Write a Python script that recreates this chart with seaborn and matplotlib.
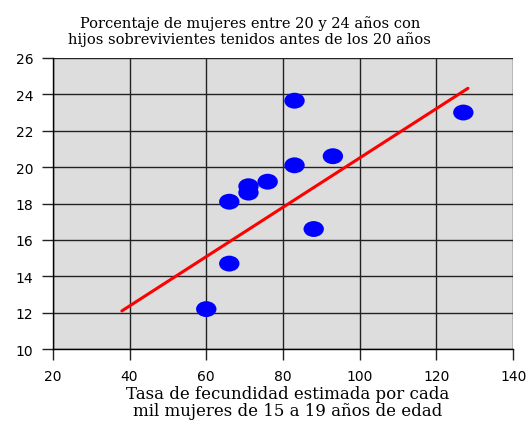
import numpy as np
import pandas as pd
import matplotlib
matplotlib.use("Agg")
import matplotlib.pyplot as plt
import seaborn as sns
from matplotlib.path import Path
from matplotlib.transforms import Affine2D

# data
tasa = [60, 66, 66, 71, 71, 76, 83, 83, 88, 93, 127]
porcentaje = [12.2, 14.7, 18.1, 18.6, 18.95, 19.2, 23.65, 20.1, 16.6, 20.6, 23.0]
trend_x = [38, 128.2]
trend_y = [12.1, 24.33]

x_ticks = [20, 40, 60, 80, 100, 120, 140]
y_ticks = [10, 12, 14, 16, 18, 20, 22, 24, 26]

TITLE = "Porcentaje de mujeres entre 20 y 24 años con\nhijos sobrevivientes tenidos antes de los 20 años"
XLABEL = "Tasa de fecundidad estimada por cada\nmil mujeres de 15 a 19 años de edad"

points_df = pd.DataFrame({'tasa': tasa, 'porcentaje': porcentaje})
trend_df = pd.DataFrame({'x': trend_x, 'y': trend_y})

sns.set_theme(style="white")
plt.rcParams['font.family'] = ['DejaVu Sans']

fig = plt.figure(figsize=(5.28, 4.27), dpi=100)
ax = fig.add_axes([0.100, 0.180, 0.872, 0.682])
ax.set_facecolor('#dddddd')

# flattened ellipse marker like the original blobs
ellipse = Path.unit_circle().transformed(Affine2D().scale(1.0, 0.78))

sns.lineplot(data=trend_df, x='x', y='y', color='#ff0000', linewidth=2.2, ax=ax, zorder=3)
sns.scatterplot(data=points_df, x='tasa', y='porcentaje', marker=ellipse, s=215,
                color='#0000ff', edgecolor='none', ax=ax, zorder=4)

ax.set_xlim(20, 140)
ax.set_ylim(10, 26)
ax.set_xticks(x_ticks)
ax.set_yticks(y_ticks)
ax.grid(True, color='#222222', linewidth=1.0)
ax.set_axisbelow(True)
for side in ['top', 'right']:
    ax.spines[side].set_visible(False)
for side in ['left', 'bottom']:
    ax.spines[side].set_color('black')
    ax.spines[side].set_linewidth(1.0)
ax.tick_params(axis='both', which='major', direction='out', length=8, width=1.0,
               color='#222222', labelcolor='black', labelsize=10, pad=6,
               left=True, bottom=True)
ax.set_xlabel('')
ax.set_ylabel('')

fig.text(0.473, 0.925, TITLE, ha='center', va='center', family='DejaVu Serif',
         fontsize=10.5, linespacing=1.1, color='black')
fig.text(0.545, 0.057, XLABEL, ha='center', va='center', family='DejaVu Serif',
         fontsize=12, linespacing=1.0, color='black')

fig.savefig('out.png', dpi=100)
